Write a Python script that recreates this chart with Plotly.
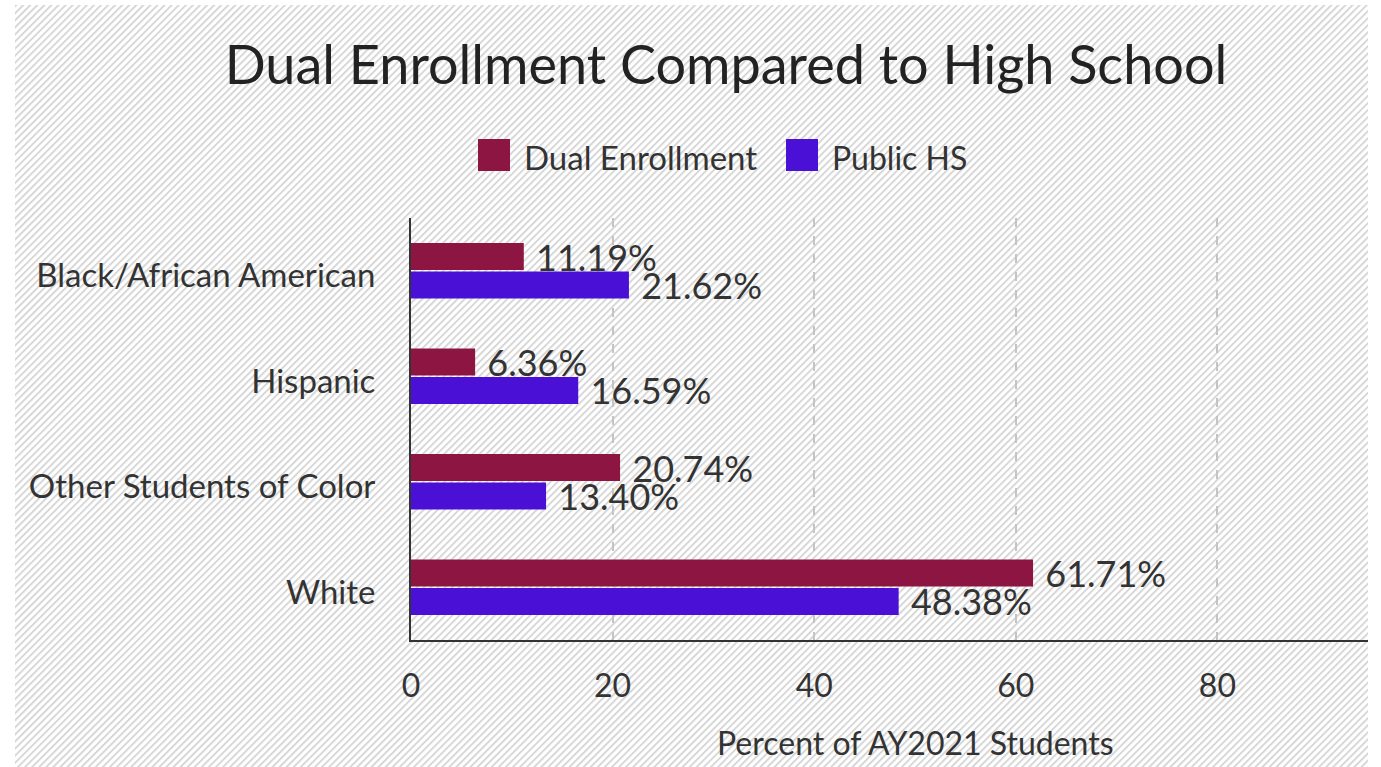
import base64
import plotly.graph_objects as go

# ---- data ----
categories = ["Black/African American", "Hispanic", "Other Students of Color", "White"]
dual_enrollment = [11.19, 6.36, 20.74, 61.71]
public_hs = [21.62, 16.59, 13.40, 48.38]
x_ticks = [0, 20, 40, 60, 80, 100]
series_names = ["Dual Enrollment", "Public HS"]

# ---- style ----
W, H = 1381, 767
ML, MR, MT, MB = 411, 13, 218, 127
PW = W - ML - MR
PH = H - MT - MB
MAROON = "#8C1641"
BLUE = "#4A10D6"
FONT = "Lato"
TXT = "#333333"


def px(xp):
    return (xp - ML) / PW


def py(yp):
    return (H - MB - yp) / PH


# hatched background as an inline SVG image
bw, bh = 1353, 762
svg = (
    f'<svg xmlns="http://www.w3.org/2000/svg" width="{bw}" height="{bh}">'
    '<defs><pattern id="p" patternUnits="userSpaceOnUse" width="5" height="5" '
    'patternTransform="rotate(45)">'
    '<rect width="5" height="5" fill="#ffffff"/>'
    '<rect width="1.7" height="5" fill="#d2d2d2"/></pattern></defs>'
    '<rect width="100%" height="100%" fill="url(#p)"/></svg>'
)
uri = "data:image/svg+xml;base64," + base64.b64encode(svg.encode()).decode()

fig = go.Figure()
for vals, name, col in [(dual_enrollment, series_names[0], MAROON),
                        (public_hs, series_names[1], BLUE)]:
    fig.add_trace(go.Bar(
        y=categories, x=vals, name=name, orientation="h",
        marker=dict(color=col, line=dict(width=0)),
        texttemplate="\u00a0%{x:.2f}%", textposition="outside",
        constraintext="none",
        textfont=dict(family=FONT, size=36, color=TXT), cliponaxis=False,
        showlegend=False,
    ))

shapes = []
annotations = []
# legend drawn manually (large swatches)
leg = [(478, 526, MAROON, series_names[0], 33), (786, 834, BLUE, series_names[1], 32)]
for sx, tx, col, name, fs in leg:
    shapes.append(dict(type="rect", xref="paper", yref="paper",
                       x0=px(sx), x1=px(sx + 32), y0=py(171), y1=py(139),
                       fillcolor=col, line=dict(width=0), layer="above"))
    annotations.append(dict(text=name, xref="paper", yref="paper",
                            x=px(tx - 4), y=py(157), xanchor="left", yanchor="middle",
                            showarrow=False, font=dict(family=FONT, size=fs, color=TXT)))

# x axis title centred on the full 0-100 axis
annotations.append(dict(text="Percent of AY2021 Students", xref="x", yref="paper",
                        x=50, y=py(742), xanchor="center", yanchor="middle",
                        showarrow=False, font=dict(family=FONT, size=32, color=TXT)))

fig.update_layout(
    width=W, height=H,
    margin=dict(l=ML, r=MR, t=MT, b=MB, pad=0),
    paper_bgcolor="white", plot_bgcolor="rgba(0,0,0,0)",
    barmode="group", bargap=0.46, bargroupgap=0.06,
    title=dict(text="Dual Enrollment Compared to High School",
               font=dict(family=FONT, size=54, color="#222222"),
               xref="paper", x=px(726), xanchor="center",
               yref="container", y=1 - 65 / H, yanchor="middle"),
    images=[dict(source=uri, xref="paper", yref="paper",
                 x=px(15), y=py(5), sizex=bw / PW, sizey=bh / PH,
                 xanchor="left", yanchor="top", sizing="stretch", layer="below")],
    shapes=shapes, annotations=annotations,
    showlegend=False,
    xaxis=dict(range=[0, (1368 - 411) / 10.08], tickvals=x_ticks,
               showgrid=True, gridcolor="#c4c4c4", griddash="dash", gridwidth=1.5,
               zeroline=False, showline=True, linecolor="#333333", linewidth=2,
               ticks="", ticklabelstandoff=17,
               tickfont=dict(family=FONT, size=32, color=TXT)),
    yaxis=dict(type="category", autorange="reversed",
               showgrid=False, zeroline=False, showline=True,
               linecolor="#333333", linewidth=2, ticks="",
               ticklabelstandoff=27, ticklabelshift=-5,
               tickfont=dict(family=FONT, size=33, color=TXT)),
)

fig.write_html("out.html", post_script="document.body.style.margin='0';",
               config={"displayModeBar": False})
